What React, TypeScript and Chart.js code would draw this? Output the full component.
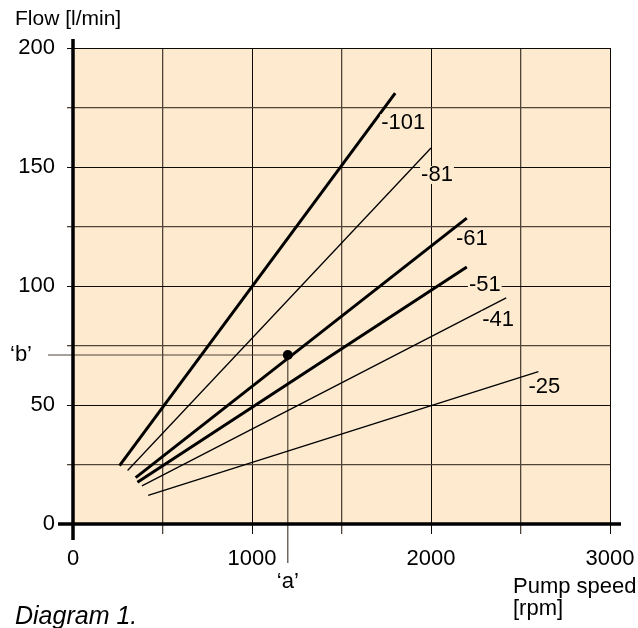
import React, { useEffect, useRef } from 'react';
import { Chart, registerables } from 'chart.js';

Chart.register(...registerables);

// ---- data ----
const seriesNames = ['-101', '-81', '-61', '-51', '-41', '-25'];
const startRpm = [260, 305, 350, 360, 385, 420];
const startFlow = [24.5, 22.5, 19.5, 17.5, 16, 12];
const endRpm = [1800, 2000, 2200, 2200, 2420, 2600];
const endFlow = [181, 158, 128.5, 108, 95, 64];
const opRpm = [1200];
const opFlow = [71];
const opLabels = ['\u2018a\u2019', '\u2018b\u2019'];
const xTickLabels = [0, 1000, 2000, 3000];
const yTickLabels = [0, 50, 100, 150, 200];
const yTitle = 'Flow [l/min]';
const xTitle = ['Pump speed', '[rpm]'];
const caption = 'Diagram 1.';

// ---- styles ----
const FONT = '"Liberation Sans", Arial, Helvetica, sans-serif';
const PEACH = '#FEEBCF';
const MAJOR = '#0d0a06';
const MINOR = '#4f4437';
const lineWidths = [3, 1.3, 3, 3, 1.3, 1.3];
const labelOffsets = [
  [8, 30],
  [6, 27],
  [5, 21],
  [18, 18],
  [-8, 22],
  [6, 15],
];

const decorPlugin = {
  id: 'decor',
  beforeDraw(chart: any) {
    const { ctx, chartArea: a } = chart;
    ctx.save();
    ctx.fillStyle = PEACH;
    ctx.fillRect(a.left, a.top, a.right - a.left, a.bottom - a.top);
    ctx.restore();
  },
  beforeDatasetsDraw(chart: any) {
    const { ctx } = chart;
    const xs = chart.scales.x;
    const ys = chart.scales.y;
    const px = xs.getPixelForValue(opRpm[0]);
    const py = ys.getPixelForValue(opFlow[0]);
    ctx.save();
    ctx.strokeStyle = MINOR;
    ctx.lineWidth = 1.2;
    ctx.beginPath();
    ctx.moveTo(xs.left - 25, py);
    ctx.lineTo(px, py);
    ctx.moveTo(px, py);
    ctx.lineTo(px, ys.bottom + 39);
    ctx.stroke();
    ctx.restore();
  },
  afterDatasetsDraw(chart: any) {
    const { ctx } = chart;
    const xs = chart.scales.x;
    const ys = chart.scales.y;
    const a = chart.chartArea;
    ctx.save();
    // series labels with background
    ctx.font = `22px ${FONT}`;
    ctx.textAlign = 'center';
    ctx.textBaseline = 'middle';
    seriesNames.forEach((name, i) => {
      const ex = xs.getPixelForValue(endRpm[i]) + labelOffsets[i][0];
      const ey = ys.getPixelForValue(endFlow[i]) + labelOffsets[i][1];
      const w = ctx.measureText(name).width;
      ctx.fillStyle = PEACH;
      ctx.fillRect(ex - w / 2 - 1, ey - 9, w + 2, 18);
      ctx.fillStyle = '#000';
      ctx.fillText(name, ex, ey);
    });

    // axes (extended beyond the plot)
    ctx.strokeStyle = '#000';
    ctx.lineWidth = 3.5;
    ctx.beginPath();
    ctx.moveTo(a.left, a.top - 9);
    ctx.lineTo(a.left, a.bottom + 16);
    ctx.moveTo(a.left - 15, a.bottom);
    ctx.lineTo(a.right + 11, a.bottom);
    ctx.stroke();

    // guide labels
    const px = xs.getPixelForValue(opRpm[0]);
    const py = ys.getPixelForValue(opFlow[0]);
    ctx.fillStyle = '#000';
    ctx.font = `22px ${FONT}`;
    ctx.textAlign = 'center';
    ctx.textBaseline = 'middle';
    ctx.fillText(opLabels[0], px, ys.bottom + 58);
    ctx.fillText(opLabels[1], 21, py);

    // titles
    ctx.textAlign = 'left';
    ctx.textBaseline = 'alphabetic';
    ctx.font = `21px ${FONT}`;
    ctx.fillText(yTitle, 15, 25);
    ctx.font = `22px ${FONT}`;
    ctx.fillText(xTitle[0], 513, 593);
    ctx.fillText(xTitle[1], 513, 615);
    ctx.font = `italic 25px ${FONT}`;
    ctx.fillText(caption, 15, 624);
    ctx.restore();
  },
};

export default function App() {
  const ref = useRef<HTMLCanvasElement | null>(null);

  useEffect(() => {
    if (!ref.current) return;
    const datasets: any[] = seriesNames.map((name, i) => ({
      label: name,
      data: [
        { x: startRpm[i], y: startFlow[i] },
        { x: endRpm[i], y: endFlow[i] },
      ],
      showLine: true,
      borderColor: '#000',
      borderWidth: lineWidths[i],
      pointRadius: 0,
      fill: false,
    }));
    datasets.push({
      label: 'point',
      data: opRpm.map((r, i) => ({ x: r, y: opFlow[i] })),
      showLine: false,
      pointRadius: 5,
      pointBackgroundColor: '#000',
      pointBorderColor: '#000',
      pointBorderWidth: 0,
    });

    const chart = new Chart(ref.current, {
      type: 'scatter',
      data: { datasets },
      plugins: [decorPlugin],
      options: {
        animation: false,
        responsive: false,
        events: [],
        layout: { padding: { left: 0, top: 48, right: 28, bottom: 0 } },
        plugins: {
          legend: { display: false },
          tooltip: { enabled: false },
        },
        scales: {
          x: {
            type: 'linear',
            position: 'bottom',
            min: 0,
            max: 3000,
            afterFit: (s: any) => {
              s.height = 104;
              s.paddingLeft = 0;
              s.paddingRight = 0;
            },
            border: { display: false },
            grid: {
              color: (c: any) => (c.tick && c.tick.value % 1000 === 0 ? MAJOR : MINOR),
              lineWidth: (c: any) => (c.tick && c.tick.value % 1000 === 0 ? 1 : 1.3),
              drawTicks: true,
              tickLength: 10,
            },
            ticks: {
              stepSize: 500,
              padding: 12,
              maxRotation: 0,
              autoSkip: false,
              color: '#000',
              font: { family: FONT, size: 22 },
              callback: (v: any) => (xTickLabels.includes(Number(v)) ? String(v) : ''),
            },
          },
          y: {
            type: 'linear',
            position: 'left',
            min: 0,
            max: 200,
            afterFit: (s: any) => {
              s.width = 73;
              s.paddingTop = 0;
              s.paddingBottom = 0;
            },
            border: { display: false },
            grid: {
              color: (c: any) => (c.tick && c.tick.value % 50 === 0 ? MAJOR : MINOR),
              lineWidth: (c: any) => (c.tick && c.tick.value % 50 === 0 ? 1 : 1.3),
              drawTicks: true,
              tickLength: 6,
            },
            ticks: {
              stepSize: 25,
              padding: 12,
              autoSkip: false,
              color: '#000',
              font: { family: FONT, size: 22 },
              callback: (v: any) => (yTickLabels.includes(Number(v)) ? String(v) : ''),
            },
          },
        },
      },
    });
    return () => chart.destroy();
  }, []);

  return (
    <div style={{ position: 'absolute', left: 0, top: 0, width: 638, height: 628 }}>
      <canvas ref={ref} width={638} height={628} style={{ width: 638, height: 628 }} />
    </div>
  );
}
